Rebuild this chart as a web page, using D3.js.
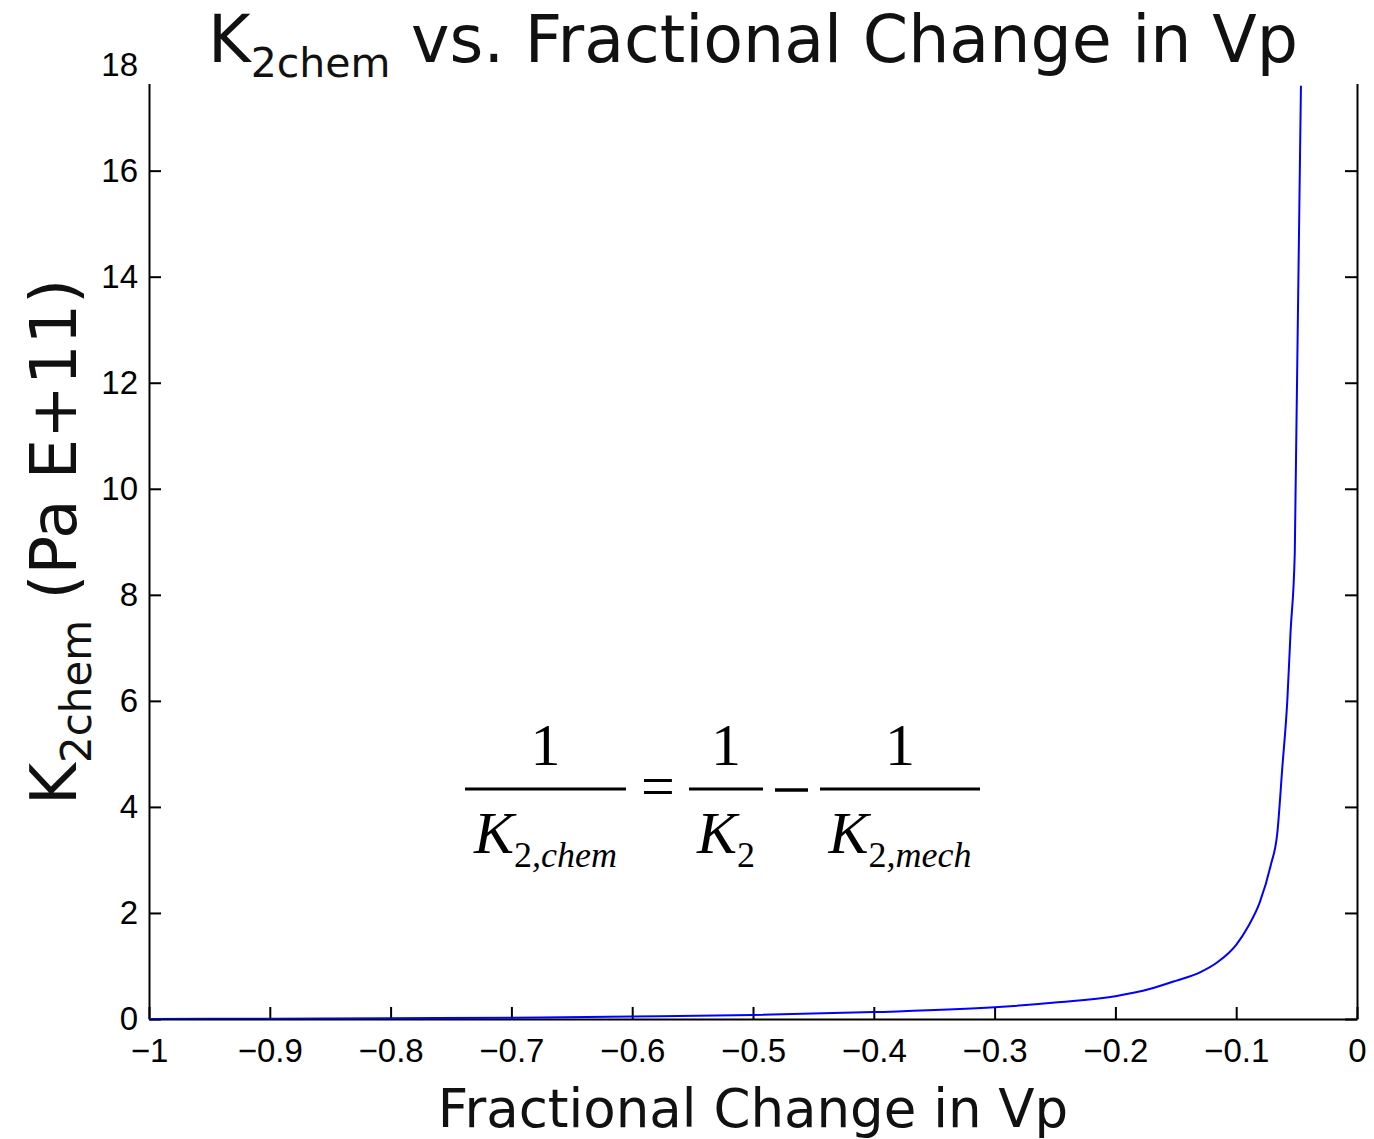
<!DOCTYPE html>
<html>
<head>
<meta charset="utf-8">
<script src="https://cdn.jsdelivr.net/npm/d3@7"></script>
<style>
  body { margin: 0; background: #fff; }
  svg { display: block; }
  .axis path, .axis line { stroke: #000; stroke-width: 2; }
  .axis text { font-family: "Liberation Sans", Arial, sans-serif; font-size: 33px; fill: #000; }
</style>
</head>
<body>
<svg id="chart" width="1374" height="1139"></svg>
<script>
// ── Datos ────────────────────────────────────────────────────────
const fracChange = [-1, -0.9, -0.8, -0.7, -0.6, -0.5, -0.4, -0.3, -0.25, -0.2,
  -0.171, -0.15, -0.13, -0.115, -0.1, -0.09, -0.0805, -0.0714, -0.066, -0.0618,
  -0.0577, -0.055, -0.0515, -0.0464];
const k2chem = [0.002, 0.006, 0.013, 0.025, 0.045, 0.075, 0.13, 0.22, 0.31, 0.43,
  0.57, 0.72, 0.88, 1.08, 1.40, 1.75, 2.2, 2.9, 3.5, 4.75,
  6.0, 7.3, 8.8, 17.6];
const xTicks = [-1, -0.9, -0.8, -0.7, -0.6, -0.5, -0.4, -0.3, -0.2, -0.1, 0];
const yTicks = [0, 2, 4, 6, 8, 10, 12, 14, 16, 18];

// ── Escalas ──────────────────────────────────────────────────────
const svg = d3.select("#chart");
const L = 149, R = 1357, B = 1019, T = 64.6;
const x = d3.scaleLinear().domain([-1, 0]).range([L, R]);
const y = d3.scaleLinear().domain([0, 18]).range([B, T]);
const fmt = d3.format("");

svg.append("defs").append("clipPath").attr("id", "plot-clip")
  .append("rect").attr("x", L).attr("y", T).attr("width", R - L).attr("height", B - T);

// ── Ejes ─────────────────────────────────────────────────────────
svg.append("g").attr("class", "axis").attr("transform", `translate(0,${B})`)
  .call(d3.axisBottom(x).tickValues(xTicks).tickFormat(fmt).tickSize(-12).tickSizeOuter(0).tickPadding(20));
svg.append("g").attr("class", "axis").attr("transform", `translate(0,${T})`)
  .call(d3.axisTop(x).tickValues(xTicks).tickFormat("").tickSize(-12).tickSizeOuter(0));
svg.append("g").attr("class", "axis").attr("transform", `translate(${L},0)`)
  .call(d3.axisLeft(y).tickValues(yTicks).tickFormat(fmt).tickSize(-12).tickSizeOuter(0).tickPadding(11));
svg.append("g").attr("class", "axis").attr("transform", `translate(${R},0)`)
  .call(d3.axisRight(y).tickValues(yTicks).tickFormat("").tickSize(-12).tickSizeOuter(0));

// ── Curva ────────────────────────────────────────────────────────
const pts = fracChange.map((v, i) => [v, k2chem[i]]);
svg.append("path")
  .datum(pts)
  .attr("clip-path", "url(#plot-clip)")
  .attr("fill", "none")
  .attr("stroke", "#0000ff")
  .attr("stroke-width", 2)
  .attr("d", d3.line().curve(d3.curveMonotoneX).x(d => x(d[0])).y(d => y(d[1])));

// ── Ecuación ─────────────────────────────────────────────────────
const eq = svg.append("g").attr("font-family", "'Liberation Serif', 'Times New Roman', serif").attr("fill", "#000");
function fraction(x0, x1, sub) {
  const cx = (x0 + x1) / 2;
  eq.append("line").attr("x1", x0).attr("x2", x1).attr("y1", 789).attr("y2", 789)
    .attr("stroke", "#000").attr("stroke-width", 3);
  eq.append("text").attr("x", cx).attr("y", 765).attr("text-anchor", "middle")
    .attr("font-size", 60).text("1");
  const t = eq.append("text").attr("x", cx).attr("y", 853).attr("text-anchor", "middle")
    .attr("font-size", 60);
  t.append("tspan").attr("font-style", "italic").text("K");
  const s = t.append("tspan").attr("font-size", 36).attr("dy", 14);
  s.append("tspan").text(sub[0]);
  if (sub[1]) s.append("tspan").attr("font-style", "italic").text(sub[1]);
}
fraction(465, 626, ["2", ",chem"]);
fraction(689, 763, ["2", ""]);
fraction(820, 980, ["2", ",mech"]);
eq.append("text").attr("x", 658).attr("y", 806).attr("text-anchor", "middle")
  .attr("font-size", 60).text("=");
eq.append("line").attr("x1", 775).attr("x2", 808).attr("y1", 790).attr("y2", 790)
  .attr("stroke", "#000").attr("stroke-width", 3.5);

// ── Tapa blanca del título ───────────────────────────────────────
svg.append("rect").attr("x", 143).attr("y", 0).attr("width", 1374 - 143).attr("height", 84).attr("fill", "#fff");

// ── Textos ───────────────────────────────────────────────────────
const sans = "'DejaVu Sans', Verdana, sans-serif";
const title = svg.append("text").attr("x", (L + R) / 2).attr("y", 62)
  .attr("text-anchor", "middle").attr("font-family", sans).attr("font-size", 65).attr("fill", "#111");
title.append("tspan").text("K");
title.append("tspan").attr("font-size", 41).attr("dy", 15).text("2chem");
title.append("tspan").attr("dy", -15).text(" vs. Fractional Change in Vp");

svg.append("text").attr("x", (L + R) / 2).attr("y", 1127)
  .attr("text-anchor", "middle").attr("font-family", sans).attr("font-size", 53).attr("fill", "#111")
  .text("Fractional Change in Vp");

const yl = svg.append("text").attr("transform", `translate(76,${(T + B) / 2}) rotate(-90)`)
  .attr("text-anchor", "middle").attr("font-family", sans).attr("font-size", 64).attr("fill", "#111");
yl.append("tspan").text("K");
yl.append("tspan").attr("font-size", 42).attr("dy", 15).text("2chem");
yl.append("tspan").attr("dy", -15).text(" (Pa E+11)");
</script>
</body>
</html>
